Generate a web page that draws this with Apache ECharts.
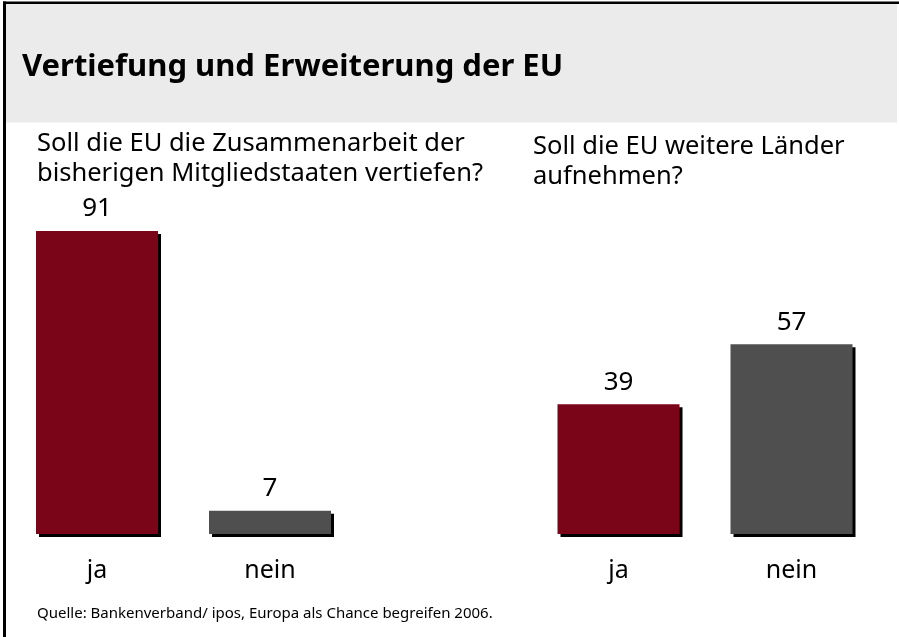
<!DOCTYPE html>
<html><head><meta charset="utf-8">
<script src="https://cdn.jsdelivr.net/npm/echarts@6/dist/echarts.min.js"></script>
<style>html,body{margin:0;padding:0;background:#fff}#c{width:899px;height:637px}</style>
</head><body><div id="c"></div>
<script>
const titleText = "Vertiefung und Erweiterung der EU";
const leftQuestion = "Soll die EU die Zusammenarbeit der\nbisherigen Mitgliedstaaten vertiefen?";
const rightQuestion = "Soll die EU weitere Länder\naufnehmen?";
const sourceText = "Quelle: Bankenverband/ ipos, Europa als Chance begreifen 2006.";
const categories = ["ja", "nein"];
const deepenValues = [91, 7];
const enlargeValues = [39, 57];
const colors = ["#7a0519", "#4f4f4f"];

const FONT = "'Noto Sans', sans-serif";
const chart = echarts.init(document.getElementById('c'), null, {renderer: 'canvas'});

function barData(vals) {
  return vals.map((v, i) => ({value: v, itemStyle: {color: colors[i]}}));
}
const yAx = (g) => ({type: 'value', gridIndex: g, min: 0, max: 100, show: false});
const xAx = (g) => ({
  type: 'category', gridIndex: g, data: categories,
  axisLine: {show: false}, axisTick: {show: false}, splitLine: {show: false},
  axisLabel: {margin: 24, fontSize: 25, color: '#000', fontFamily: FONT}
});
const seriesFor = (vals, g) => ({
  type: 'bar', xAxisIndex: g, yAxisIndex: g, data: barData(vals), barWidth: 122,
  itemStyle: {shadowColor: '#000', shadowOffsetX: 3, shadowOffsetY: 3, shadowBlur: 0},
  label: {show: true, position: 'top', distance: 9, fontSize: 26, color: '#000', fontFamily: FONT},
  emphasis: {disabled: true}, animation: false
});

chart.setOption({
  animation: false,
  graphic: [
    {type: 'rect', shape: {x: 6, y: 4, width: 891, height: 118.5}, style: {fill: '#ebebeb'}, z: -10},
    {type: 'rect', shape: {x: 3, y: 1.5, width: 896, height: 2.5}, style: {fill: '#000'}},
    {type: 'rect', shape: {x: 3, y: 1.5, width: 3, height: 636}, style: {fill: '#000'}},
    {type: 'text', left: 22, top: 52, style: {text: titleText, font: "bold 31px " + FONT, fill: '#000'}},
    {type: 'text', left: 37, top: 129, style: {text: leftQuestion, font: "25.5px " + FONT, lineHeight: 30, fill: '#000'}},
    {type: 'text', left: 533, top: 132, style: {text: rightQuestion, font: "25.5px " + FONT, lineHeight: 30, fill: '#000'}},
    {type: 'text', left: 37, top: 606, style: {text: sourceText, font: "15px " + FONT, fill: '#000'}}
  ],
  grid: [
    {left: 10.5, width: 346, top: 201, height: 333},
    {left: 532, width: 346, top: 201, height: 333}
  ],
  xAxis: [xAx(0), xAx(1)],
  yAxis: [yAx(0), yAx(1)],
  series: [seriesFor(deepenValues, 0), seriesFor(enlargeValues, 1)]
});
</script></body></html>
